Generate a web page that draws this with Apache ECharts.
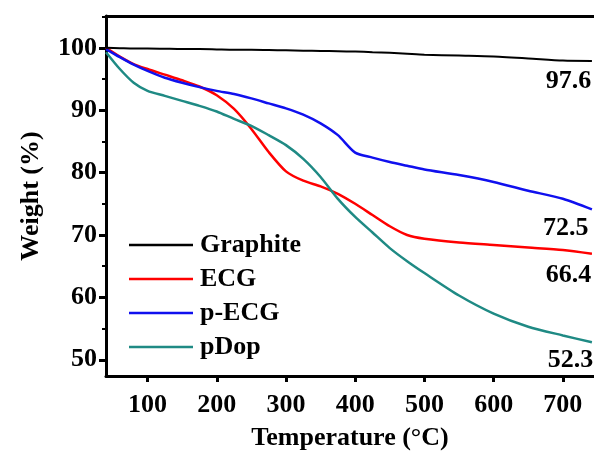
<!DOCTYPE html>
<html><head><meta charset="utf-8">
<script src="https://cdn.jsdelivr.net/npm/echarts@6/dist/echarts.min.js"></script>
<style>html,body{margin:0;padding:0;background:#fff}#c{width:594px;height:456px}</style>
</head><body><div id="c"></div>
<script>
const temps    = [40,60,80,100,125,150,175,200,225,250,275,300,325,350,375,400,425,450,475,500,550,600,650,700,742];
const graphite = [100,99.95,99.9,99.9,99.85,99.8,99.8,99.75,99.7,99.7,99.65,99.6,99.55,99.5,99.45,99.4,99.3,99.2,99.05,98.9,98.75,98.6,98.3,97.95,97.9];
const ecg      = [100,98.6,97.4,96.6,95.7,94.8,93.8,92.4,90.2,87.0,83.3,80.2,78.7,77.8,76.6,75.0,73.2,71.4,70.0,69.4,68.8,68.4,68.0,67.6,67.0];
const pecg     = [99.8,98.5,97.3,96.3,95.2,94.4,93.7,93.1,92.6,91.9,91.1,90.3,89.3,87.9,86.0,83.2,82.4,81.7,81.1,80.5,79.6,78.5,77.1,75.8,74.1];
const pdop     = [99.3,96.6,94.4,93.1,92.3,91.5,90.7,89.8,88.6,87.5,86.0,84.4,82.2,79.3,75.8,72.9,70.4,67.9,65.8,63.9,60.3,57.4,55.3,53.9,52.8];
const seriesNames = ['Graphite','ECG','p-ECG','pDop'];
const xTicks = [100,200,300,400,500,600,700];
const yTicks = [50,60,70,80,90,100];
const yMinorTicks = [55,65,75,85,95,105];
const annotText = ['97.6','72.5','66.4','52.3'];
const annotX = [741,737,741,744];
const annotY = [94.6,71.0,63.5,49.9];

const FONT = 'Liberation Serif';
const FS = 26;
const colors = ['#000000','#ff0000','#1010ee','#1f8a84'];
const widths = [2,2.5,2.5,2.5];
const datas = [graphite, ecg, pecg, pdop];

const chart = echarts.init(document.getElementById('c'), null, {renderer:'canvas'});
const txt = {fontFamily: FONT, fontWeight:'bold', fontSize: FS, color:'#000'};
const series = datas.map((d,i)=>({
  name: seriesNames[i], type:'line', symbol:'none', smooth:0.25,
  data: temps.map((t,j)=>[t,d[j]]),
  lineStyle:{color:colors[i], width:widths[i]}, itemStyle:{color:colors[i]},
  z: 3 + (i===0?1:0),
  markPoint:{
    symbol:'circle', symbolSize:0, silent:true,
    data:[{coord:[annotX[i], annotY[i]], value:annotText[i]}],
    label:{show:true, position:'left', distance:0, formatter:annotText[i], ...txt}
  }
}));
chart.setOption({
  animation:false,
  grid:{left:106, right:-2, top:16, bottom:75, containLabel:false},
  legend:{orient:'vertical', left:129, top:232, padding:0, itemWidth:64, itemHeight:2.5, itemGap:8,
    icon:'rect',
    textStyle:{...txt, lineHeight:26, padding:[0,0,0,2]}, data:seriesNames},
  xAxis:[{
    type:'value', min:40, max:745,
    name:'Temperature (°C)', nameLocation:'middle', nameGap:49, nameTextStyle:{...txt},
    axisLine:{show:true, lineStyle:{color:'#000', width:3}},
    axisTick:{show:true, length:6, inside:false, customValues:xTicks, lineStyle:{width:3, color:'#000'}},
    axisLabel:{customValues:xTicks, margin:16, ...txt},
    splitLine:{show:false}
  },{
    type:'value', position:'top', min:40, max:745,
    axisLine:{show:true, lineStyle:{color:'#000', width:3}},
    axisTick:{show:false}, axisLabel:{show:false}, splitLine:{show:false}
  }],
  yAxis:[{
    type:'value', min:47.4, max:105.1,
    name:'Weight (%)', nameLocation:'middle', nameGap:62, nameTextStyle:{...txt},
    axisLine:{show:true, lineStyle:{color:'#000', width:3}},
    axisTick:{show:true, length:7, customValues:yTicks, lineStyle:{width:3, color:'#000'}},
    axisLabel:{customValues:yTicks, margin:9, ...txt},
    splitLine:{show:false}
  },{
    type:'value', position:'left', min:47.4, max:105.1,
    axisLine:{show:false},
    axisTick:{show:true, length:4, customValues:yMinorTicks, lineStyle:{width:2, color:'#000'}},
    axisLabel:{show:false}, splitLine:{show:false}
  }],
  series: series
});
</script></body></html>
